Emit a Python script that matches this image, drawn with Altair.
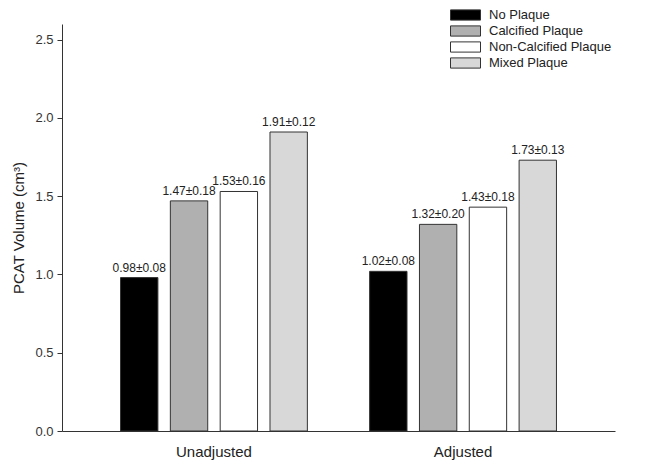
import altair as alt
import pandas as pd

groups = ["Unadjusted", "Adjusted"]
types = ["No Plaque", "Calcified Plaque", "Non-Calcified Plaque", "Mixed Plaque"]
unadj_mean = [0.98, 1.47, 1.53, 1.91]
unadj_sd = [0.08, 0.18, 0.16, 0.12]
adj_mean = [1.02, 1.32, 1.43, 1.73]
adj_sd = [0.08, 0.20, 0.18, 0.13]
colors = ["#000000", "#b0b0b0", "#ffffff", "#d8d8d8"]

rows = []
for g, means, sds in [("Unadjusted", unadj_mean, unadj_sd), ("Adjusted", adj_mean, adj_sd)]:
    for t, m, s in zip(types, means, sds):
        rows.append({"group": g, "type": t, "value": m, "label": f"{m:.2f}\u00b1{s:.2f}"})
df = pd.DataFrame(rows)

FONT = "Liberation Sans"

x = alt.X("group:N", sort=groups, title=None,
          scale=alt.Scale(paddingInner=0.2, paddingOuter=0.21),
          axis=alt.Axis(labelAngle=0, ticks=False, labelPadding=13, labelFontSize=15,
                        labelColor="#222222", labelFont=FONT, domainColor="#333333"))
xo = alt.XOffset("type:N", sort=types,
                 scale=alt.Scale(paddingInner=0.25, paddingOuter=0.125))

base = alt.Chart(df).encode(x=x, xOffset=xo)

bars = base.mark_bar(stroke="#333333", strokeWidth=1).encode(
    y=alt.Y("value:Q", title="PCAT Volume (cm\u00b3)",
            scale=alt.Scale(domain=[0, 2.5]),
            axis=alt.Axis(values=[0, 0.5, 1.0, 1.5, 2.0, 2.5], format=".1f", grid=False,
                          tickSize=5, tickColor="#333333", domainColor="#333333",
                          labelFontSize=13, labelColor="#333333", labelFont=FONT, labelPadding=4,
                          titleFontSize=15, titleFont=FONT, titleFontWeight="normal",
                          titleColor="#222222", titlePadding=8)),
    fill=alt.Fill("type:N", sort=types,
                  scale=alt.Scale(domain=types, range=colors),
                  legend=alt.Legend(title=None, orient="none", legendX=388, legendY=-17,
                                    padding=0,
                                    symbolType="M-1,-0.34H1V0.34H-1Z", symbolSize=900,
                                    symbolStrokeColor="#333333", symbolStrokeWidth=1,
                                    symbolOpacity=1,
                                    labelFontSize=13, labelFont=FONT, labelColor="#222222",
                                    labelOffset=8, rowPadding=0, clipHeight=16)),
)

labels = base.mark_text(baseline="bottom", dy=-3, fontSize=12, font=FONT, color="#222222").encode(
    y="value:Q", text="label:N")

chart = (bars + labels).properties(
    width=553, height=407,
    autosize=alt.AutoSizeParams(type="none"),
    padding={"left": 54, "top": 16, "right": 22, "bottom": 30},
).configure_view(stroke=None)

chart.save("out.html", embed_options={"renderer": "svg", "actions": False})
